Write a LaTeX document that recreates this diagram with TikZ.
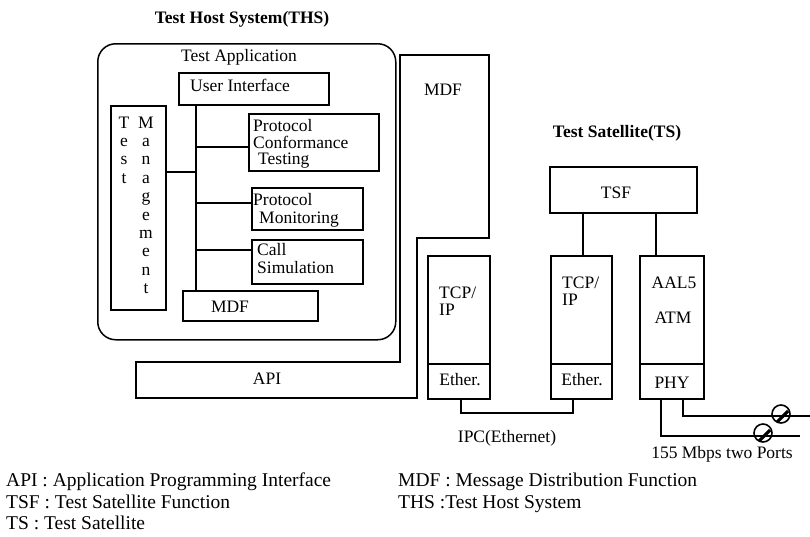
\documentclass[tikz,border=0pt]{standalone}
\usepackage{fontspec}
\setmainfont{Liberation Serif}
\begin{document}
\begin{tikzpicture}[x=1pt,y=-1pt,
  box/.style={draw,line width=1.5pt,inner sep=0pt,anchor=north west},
  txt/.style={inner sep=0pt,anchor=base,font=\fontsize{17.5}{16.5}\selectfont},
  txtl/.style={txt,anchor=base west},
  ttl/.style={inner sep=0pt,anchor=base,font=\fontsize{17.5}{17}\selectfont\bfseries},
  leg/.style={inner sep=0pt,anchor=base west,font=\fontsize{19.5}{21}\selectfont},
  wire/.style={line width=1.5pt},
  port/.style={circle,draw,line width=1.6pt,minimum size=18pt,inner sep=0pt,
    path picture={\draw[line width=3.2pt] ([shift={(1pt,-3pt)}]path picture bounding box.south west) -- ([shift={(-2pt,3pt)}]path picture bounding box.east);}},
  ]
\useasboundingbox (0,0) rectangle (810,536);

% ---------- Test Host System ----------
\node[ttl] (thsT) at (242,23) {Test Host System(THS)};
\node[box,rounded corners=18pt,minimum width=298pt,minimum height=296pt] (app) at (97,43) {};
\node[txt] (appT) at (239,61) {Test Application};

\node[box,minimum width=150pt,minimum height=32pt] (ui) at (178,72) {};
\node[txt] (uiT) at (240,91) {User Interface};

\node[box,minimum width=55pt,minimum height=204pt] (tm) at (110,105) {};
\foreach \c [count=\i from 0] in {T,e,s,t}
  \node[txt] (tmA\i) at (124,128+18.4*\i) {\c};
\foreach \c [count=\i from 0] in {M,a,n,a,g,e,m,e,n,t}
  \node[txt] (tmB\i) at (146,128+18.4*\i) {\c};

\node[box,minimum width=130pt,minimum height=57pt] (pct) at (248,113) {};
\node[txtl] (pct1) at (253,131) {Protocol};
\node[txtl] (pct2) at (253,148) {Conformance};
\node[txtl] (pct3) at (258,164) {Testing};

\node[box,minimum width=111pt,minimum height=42pt] (pm) at (251,187) {};
\node[txtl] (pm1) at (253,205) {Protocol};
\node[txtl] (pm2) at (259,223) {Monitoring};

\node[box,minimum width=111pt,minimum height=44pt] (cs) at (251,239) {};
\node[txtl] (cs1) at (257,255) {Call};
\node[txtl] (cs2) at (257,273) {Simulation};

\node[box,minimum width=135pt,minimum height=30pt] (mdfin) at (182,290) {};
\node[txt] (mdfinT) at (230,312) {MDF};

\coordinate (sp) at (196,0);
\draw[wire] (ui.south -| sp) -- (mdfin.north -| sp);
\draw[wire] (tm.east |- 0,172) -- (sp |- 0,172);
\draw[wire] (sp |- 0,147) -- (pct.west |- 0,147);
\draw[wire] (sp |- 0,203) -- (pm.west |- 0,203);
\draw[wire] (sp |- 0,250) -- (cs.west |- 0,250);

% MDF / API outline
\draw[wire] (400,55) -- (489,55) -- (489,238) -- (417,238) -- (417,398)
  -- (136,398) -- (136,362) -- (400,362) -- cycle;
\node[txt] (mdfT) at (443,95) {MDF};
\node[txt] (apiT) at (267,384) {API};

% ---------- Test Satellite ----------
\node[ttl] (tsT) at (617,137) {Test Satellite(TS)};
\node[box,minimum width=147pt,minimum height=46pt] (tsf) at (549,166) {};
\node[txt] (tsfT) at (616,198) {TSF};

\node[box,minimum width=62pt,minimum height=108pt] (tcp1) at (427,255) {};
\node[box,minimum width=62pt,minimum height=35pt] (eth1) at (427,363) {};
\node[txtl] (tcp1a) at (439,298) {TCP/};
\node[txtl] (tcp1b) at (439,315) {IP};
\node[txt] (eth1T) at (460,385) {Ether.};

\node[box,minimum width=61pt,minimum height=108pt] (tcp2) at (550,255) {};
\node[box,minimum width=61pt,minimum height=35pt] (eth2) at (550,363) {};
\node[txtl] (tcp2a) at (562,288) {TCP/};
\node[txtl] (tcp2b) at (562,305) {IP};
\node[txt] (eth2T) at (582,385) {Ether.};

\node[box,minimum width=64pt,minimum height=108pt] (aal) at (639,255) {};
\node[box,minimum width=64pt,minimum height=35pt] (phy) at (639,363) {};
\node[txt] (aalT) at (674,288) {AAL5};
\node[txt] (atmT) at (673,323) {ATM};
\node[txt] (phyT) at (672,388) {PHY};

\draw[wire] (tcp2.north -| 583,0) -- (tsf.south -| 583,0);
\draw[wire] (aal.north -| 656,0) -- (tsf.south -| 656,0);

\coordinate (ipcmid) at (573,413);
\draw[wire] (eth1.south -| 461,0) |- (ipcmid) -- (eth2.south -| ipcmid);
\node[txt] (ipcT) at (507,442) {IPC(Ethernet)};

\coordinate (l1end) at (810,416);
\coordinate (l2end) at (800,436);
\draw[wire] (phy.south -| 683,0) |- (l1end);
\draw[wire] (phy.south -| 661,0) |- (l2end);
\node[port] (port1) at (781,414) {};
\node[port] (port2) at (763,433) {};
\node[txt] (portsT) at (722,458) {155 Mbps two Ports};

% ---------- Legend ----------
\node[leg] (lg1) at (6,486) {API : Application Programming Interface};
\node[leg] (lg2) at (6,508) {TSF : Test Satellite Function};
\node[leg] (lg3) at (6,529) {TS : Test Satellite};
\node[leg] (lg4) at (398,486) {MDF : Message Distribution Function};
\node[leg] (lg5) at (398,508) {THS :Test Host System};
\end{tikzpicture}
\end{document}
